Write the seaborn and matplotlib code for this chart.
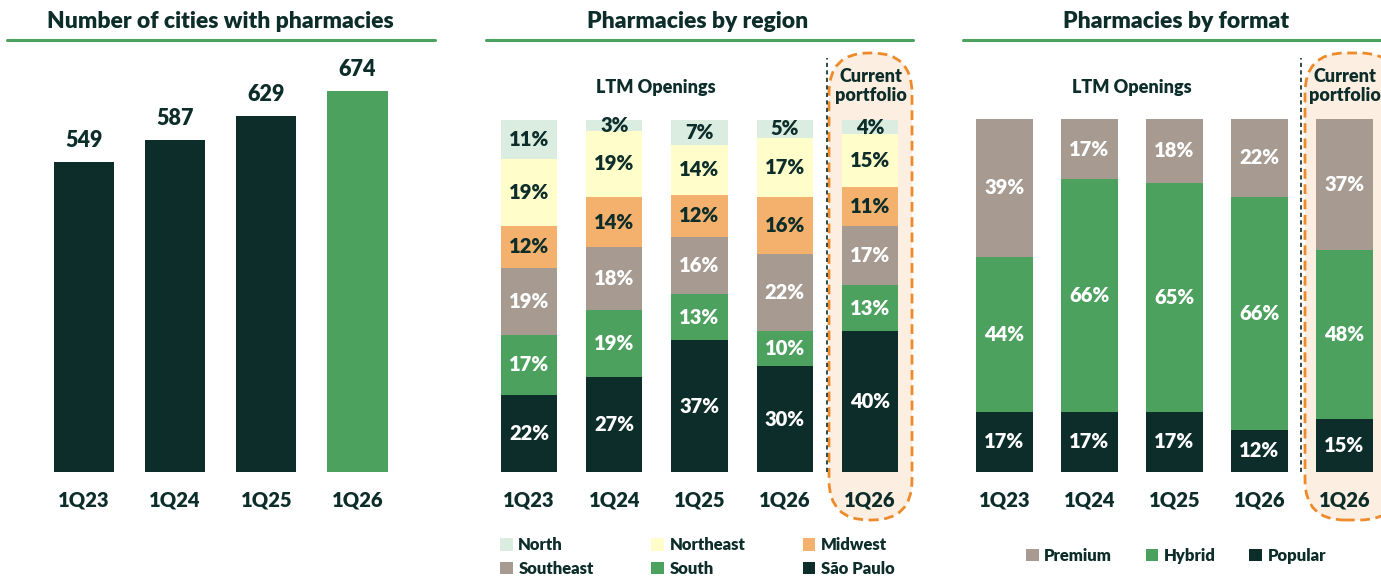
import matplotlib
matplotlib.use("Agg")
import matplotlib.pyplot as plt
import seaborn as sns
from matplotlib.patches import FancyBboxPatch, Patch
from matplotlib.lines import Line2D

# Dados
anos = ["1Q23", "1Q24", "1Q25", "1Q26"]
cidades = [549, 587, 629, 674]

periodos = ["1Q23", "1Q24", "1Q25", "1Q26", "Atual"]
rotulos_periodos = ["1Q23", "1Q24", "1Q25", "1Q26", "1Q26"]

regioes = ["São Paulo", "South", "Southeast", "Midwest", "Northeast", "North"]
sao_paulo = [22, 27, 37, 30, 40]
south = [17, 19, 13, 10, 13]
southeast = [19, 18, 16, 22, 17]
midwest = [12, 14, 12, 16, 11]
northeast = [19, 19, 14, 17, 15]
north = [11, 3, 7, 5, 4]

formatos = ["Popular", "Hybrid", "Premium"]
popular = [17, 17, 17, 12, 15]
hybrid = [44, 66, 65, 66, 48]
premium = [39, 17, 18, 22, 37]

# Cores
ESCURO = "#0C2D2A"
VERDE = "#4CA15F"
cores_regiao = {"São Paulo": ESCURO, "South": VERDE, "Southeast": "#A69A91",
                "Midwest": "#F4B16D", "Northeast": "#FFFDC9", "North": "#DAEDE0"}
texto_regiao = {"São Paulo": "white", "South": "white", "Southeast": "white",
                "Midwest": ESCURO, "Northeast": ESCURO, "North": ESCURO}
cores_formato = {"Popular": ESCURO, "Hybrid": VERDE, "Premium": "#A69A91"}

PESO = "heavy"

sns.set_style("white")
plt.rcParams["font.family"] = ["Lato", "DejaVu Sans"]
plt.rcParams["font.weight"] = PESO

W, H = 1381, 577
fig = plt.figure(figsize=(W / 100, H / 100), dpi=100)
fig.patch.set_facecolor("white")


def eixo_px(esq, topo, dir, base):
    ax = fig.add_axes([esq / W, 1 - base / H, (dir - esq) / W, (base - topo) / H])
    ax.set_facecolor("none")
    return ax


def limpar(ax):
    sns.despine(ax=ax, left=True, bottom=True)
    ax.set_yticks([])
    ax.set_xlabel("")
    ax.set_ylabel("")
    ax.tick_params(axis="x", length=0, pad=13, labelsize=14.5, labelcolor=ESCURO)
    for t in ax.get_xticklabels():
        t.set_fontweight(PESO)


def titulo(x0, x1, xc, texto):
    fig.text(xc / W, 1 - 22 / H, texto, ha="center", va="center", fontsize=16.5,
             fontweight=PESO, color=ESCURO)
    fig.add_artist(Line2D([x0 / W, x1 / W], [1 - 40 / H, 1 - 40 / H], color=VERDE, lw=2.2))


def caixa_atual(x0, x1, xlinha):
    caixa = FancyBboxPatch((x0 / 100, (H - 520) / 100), (x1 - x0) / 100, 467 / 100,
                           boxstyle="round,pad=0,rounding_size=0.4",
                           transform=fig.dpi_scale_trans, facecolor="#FDEEE2",
                           edgecolor="#EE8A2A", lw=2.0, linestyle=(0, (3.5, 2)), zorder=-1)
    fig.add_artist(caixa)
    fig.add_artist(Line2D([xlinha / 100, xlinha / 100], [(H - 472) / 100, (H - 58) / 100],
                          transform=fig.dpi_scale_trans, color=ESCURO, lw=1.2,
                          linestyle=(0, (2.5, 2)), zorder=-1))


########################################################
# Painel 1 - número de cidades
ax1 = eixo_px(38.5, 472 - 700 * 0.5653, 403, 472)
sns.barplot(x=anos, y=cidades, hue=anos, palette=[ESCURO, ESCURO, ESCURO, VERDE],
            width=0.66, saturation=1, legend=False, ax=ax1, linewidth=0)
ax1.set_ylim(0, 700)
ax1.set_xlim(-0.5, 3.5)
for i, v in enumerate(cidades):
    ax1.annotate(str(v), (i, v), xytext=(0, 8), textcoords="offset points",
                 ha="center", va="bottom", fontsize=15.5, fontweight=PESO, color=ESCURO)
limpar(ax1)
titulo(7, 435, 220, "Number of cities with pharmacies")


########################################################
# Painéis 2 e 3 - barras empilhadas
def empilhado(ax, series, nomes, cores, cores_texto):
    totais = [sum(c) for c in zip(*series)]
    # normalizando para 100%
    norm = [[v / t * 100 for v, t in zip(s, totais)] for s in series]
    acumulado = []
    soma = [0] * len(totais)
    for s in norm:
        base = soma[:]
        soma = [a + b for a, b in zip(soma, s)]
        acumulado.append((base, soma[:]))
    # desenha do topo para a base
    for nome, (base, topo) in reversed(list(zip(nomes, acumulado))):
        sns.barplot(x=periodos, y=topo, color=cores[nome], width=0.66, saturation=1,
                    ax=ax, linewidth=0)
    for nome, serie, (base, topo) in zip(nomes, series, acumulado):
        for i, v in enumerate(serie):
            ax.text(i, (base[i] + topo[i]) / 2, f"{v}%", ha="center", va="center",
                    fontsize=14.5, fontweight=PESO, color=cores_texto[nome])
    ax.set_ylim(0, 100)
    ax.set_xlim(-0.5, 4.5)
    ax.set_xticks(range(len(periodos)))
    ax.set_xticklabels(rotulos_periodos)
    limpar(ax)


def legenda(alcas, x, y, espaco, ncol=3):
    leg = fig.legend(handles=alcas, ncol=ncol, loc="center left",
                     bbox_to_anchor=(x / W, 1 - y / H), frameon=False, fontsize=12,
                     handlelength=0.75, handleheight=0.75, handletextpad=0.35,
                     columnspacing=espaco, labelspacing=0.45, borderaxespad=0, borderpad=0)
    for t in leg.get_texts():
        t.set_color(ESCURO)
        t.set_fontweight(PESO)
    return leg


caixa_atual(829, 912, 827)
ax2 = eixo_px(486.4, 120, 912.6, 472)
empilhado(ax2, [sao_paulo, south, southeast, midwest, northeast, north], regioes,
          cores_regiao, texto_regiao)
titulo(486, 913, 698, "Pharmacies by region")
fig.text(656 / W, 1 - 88 / H, "LTM Openings", ha="center", va="center", fontsize=13,
         fontweight=PESO, color=ESCURO)
fig.text(871 / W, 1 - 86 / H, "Current\nportfolio", ha="center", va="center", fontsize=13,
         fontweight=PESO, color=ESCURO, linespacing=1.15)

ordem_leg = ["North", "Southeast", "Northeast", "South", "Midwest", "São Paulo"]
legenda([Patch(facecolor=cores_regiao[n], edgecolor="none", label=n) for n in ordem_leg],
        500, 557, 3.45)

caixa_atual(1305, 1400, 1301)
ax3 = eixo_px(962, 119, 1387, 472)
empilhado(ax3, [popular, hybrid, premium], formatos, cores_formato,
          {"Popular": "white", "Hybrid": "white", "Premium": "white"})
titulo(963, 1381, 1176, "Pharmacies by format")
fig.text(1132 / W, 1 - 87 / H, "LTM Openings", ha="center", va="center", fontsize=13,
         fontweight=PESO, color=ESCURO)
fig.text(1345 / W, 1 - 86 / H, "Current\nportfolio", ha="center", va="center", fontsize=13,
         fontweight=PESO, color=ESCURO, linespacing=1.15)

legenda([Patch(facecolor=cores_formato[n], edgecolor="none", label=n)
         for n in ["Premium", "Hybrid", "Popular"]], 1026, 556, 2.0)

fig.savefig("out.png", dpi=100, facecolor="white")
